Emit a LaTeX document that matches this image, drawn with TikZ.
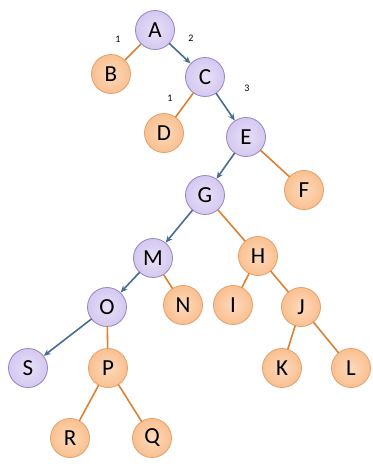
\documentclass[tikz,border=0pt]{standalone}
\usepackage{fontspec}
\setmainfont{Carlito}
\usetikzlibrary{arrows.meta}
\definecolor{lavfill}{RGB}{212,200,240}
\definecolor{lavedge}{RGB}{150,132,196}
\definecolor{peachfill}{RGB}{250,192,144}
\definecolor{peachedge}{RGB}{226,160,106}
\definecolor{branch}{RGB}{222,128,50}
\definecolor{walk}{RGB}{72,108,150}
\tikzset{
  vert/.style={circle,minimum size=39pt,inner sep=0pt,line width=0.8pt,font=\fontsize{23}{26}\selectfont},
  onpath/.style={vert,draw=lavedge,inner color=white!45!lavfill,outer color=lavfill},
  offpath/.style={vert,draw=peachedge,inner color=white!40!peachfill,outer color=peachfill},
  tree/.style={draw=branch,line width=1.6pt},
  walked/.style={draw=walk,line width=1.6pt,-{Stealth[length=7pt,width=6pt]}},
  tick/.style={font=\fontsize{10}{11}\selectfont}
}

\begin{document}
\begin{tikzpicture}[x=1pt,y=-1pt,line cap=round]
\useasboundingbox (0,0) rectangle (373,467);
\node[onpath] (a) at (155,30) {A};
\node[offpath] (b) at (111,74) {B};
\node[onpath] (c) at (205,77) {C};
\node[offpath] (d) at (164,133) {D};
\node[onpath] (e) at (246,137) {E};
\node[offpath] (f) at (304,190) {F};
\node[onpath] (g) at (205,195) {G};
\node[onpath] (m) at (153,258) {M};
\node[offpath] (h) at (258,256) {H};
\node[offpath] (n) at (183,305) {N};
\node[offpath] (i) at (233,305) {I};
\node[offpath] (j) at (301,307) {J};
\node[onpath] (o) at (107,307) {O};
\node[onpath] (s) at (28,368) {S};
\node[offpath] (p) at (108,368) {P};
\node[offpath] (k) at (282,368) {K};
\node[offpath] (l) at (351,368) {L};
\node[offpath] (r) at (70,438) {R};
\node[offpath] (q) at (152,438) {Q};

% plain branches
\draw[tree] (a) -- (b);
\draw[tree] (c) -- (d);
\draw[tree] (e) -- (f);
\draw[tree] (g) -- (h);
\draw[tree] (m) -- (n);
\draw[tree] (h) -- (i);
\draw[tree] (h) -- (j);
\draw[tree] (j) -- (k);
\draw[tree] (j) -- (l);
\draw[tree] (o) -- (p);
\draw[tree] (p) -- (r);
\draw[tree] (p) -- (q);

% the path that gets followed
\draw[walked] (a) -- (c);
\draw[walked] (c) -- (e);
\draw[walked] (e) -- (g);
\draw[walked] (g) -- (m);
\draw[walked] (m) -- (o);
\draw[walked] (o) -- (s);

\node[tick] (t1) at (118,39) {1};
\node[tick] (t2) at (191,38) {2};
\node[tick] (t3) at (170,98) {1};
\node[tick] (t4) at (247,88) {3};
\end{tikzpicture}
\end{document}
